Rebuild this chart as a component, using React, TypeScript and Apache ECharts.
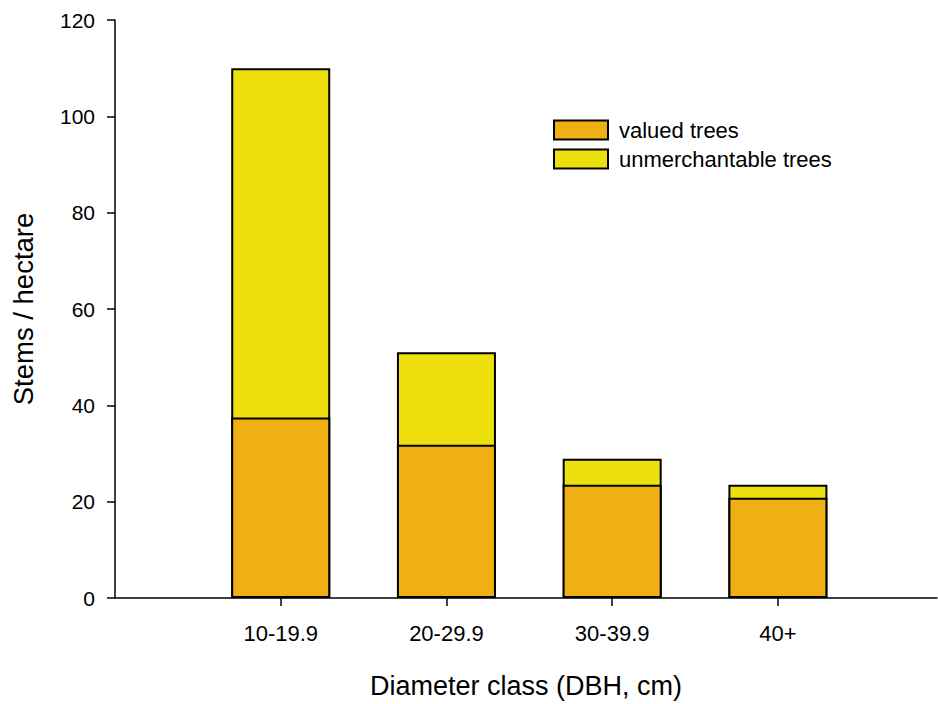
import React, { useEffect, useRef } from "react";
import * as echarts from "echarts";

const categories = ["10-19.9", "20-29.9", "30-39.9", "40+"];
const valuedTrees = [37.5, 31.8, 23.5, 20.8];
const unmerchantableTrees = [72.5, 19.2, 5.4, 2.7];
const yTicks = [0, 20, 40, 60, 80, 100, 120];

const FONT = "'Liberation Sans', Arial, Helvetica, sans-serif";

export default function App() {
  const ref = useRef<HTMLDivElement>(null);
  useEffect(() => {
    if (!ref.current) return;
    const chart = echarts.init(ref.current, undefined, { renderer: "svg" });
    const positions = categories.map((_, i) => i + 1);
    const totals = valuedTrees.map((v, i) => v + unmerchantableTrees[i]);
    chart.setOption({
      animation: false,
      backgroundColor: "#ffffff",
      textStyle: { fontFamily: FONT },
      grid: { left: 115, right: 1, top: 20, bottom: 102, containLabel: false },
      legend: {
        orient: "vertical",
        left: 553,
        top: 119,
        padding: 0,
        itemWidth: 54,
        itemHeight: 19,
        itemGap: 7,
        icon: "rect",
        textStyle: { fontFamily: FONT, fontSize: 22, color: "#000", padding: [0, 0, 0, 6] },
        data: ["valued trees", "unmerchantable trees"],
      },
      xAxis: {
        type: "value",
        min: 0,
        max: 4.96,
        interval: 1,
        splitLine: { show: false },
        axisLine: { show: true, onZero: false, lineStyle: { color: "#000", width: 1.5 } },
        axisTick: { show: true, length: 8, inside: false, customValues: positions, lineStyle: { color: "#000", width: 1.5 } },
        axisLabel: {
          customValues: positions,
          margin: 24,
          fontSize: 22,
          color: "#000",
          fontFamily: FONT,
          formatter: (v: number) => categories[Math.round(v) - 1] ?? "",
        },
        name: "Diameter class (DBH, cm)",
        nameLocation: "middle",
        nameGap: 74,
        nameTextStyle: { fontSize: 27, color: "#000", fontFamily: FONT },
      },
      yAxis: {
        type: "value",
        min: 0,
        max: 120,
        interval: 20,
        splitLine: { show: false },
        axisLine: { show: true, lineStyle: { color: "#000", width: 1.5 } },
        axisTick: { show: true, length: 8, inside: false, lineStyle: { color: "#000", width: 1.5 } },
        axisLabel: {
          margin: 20,
          fontSize: 21,
          color: "#000",
          fontFamily: FONT,
          formatter: (v: number) => (yTicks.includes(v) ? String(v) : ""),
        },
        name: "Stems / hectare",
        nameLocation: "middle",
        nameGap: 78,
        nameTextStyle: { fontSize: 27.5, color: "#000", fontFamily: FONT },
      },
      series: [
        {
          name: "unmerchantable trees",
          type: "bar",
          barWidth: 99,
          barGap: "-100%",
          z: 2,
          data: totals.map((v, i) => [positions[i], v]),
          itemStyle: { color: "#EEDF0F", borderColor: "#000", borderWidth: 2 },
        },
        {
          name: "valued trees",
          type: "bar",
          barWidth: 99,
          barGap: "-100%",
          z: 3,
          data: valuedTrees.map((v, i) => [positions[i], v]),
          itemStyle: { color: "#EEB013", borderColor: "#000", borderWidth: 2 },
        },
      ],
    });
    return () => chart.dispose();
  }, []);
  return (
    <div
      ref={ref}
      style={{ position: "fixed", left: 0, top: 0, width: 938, height: 704, background: "#fff" }}
    />
  );
}
